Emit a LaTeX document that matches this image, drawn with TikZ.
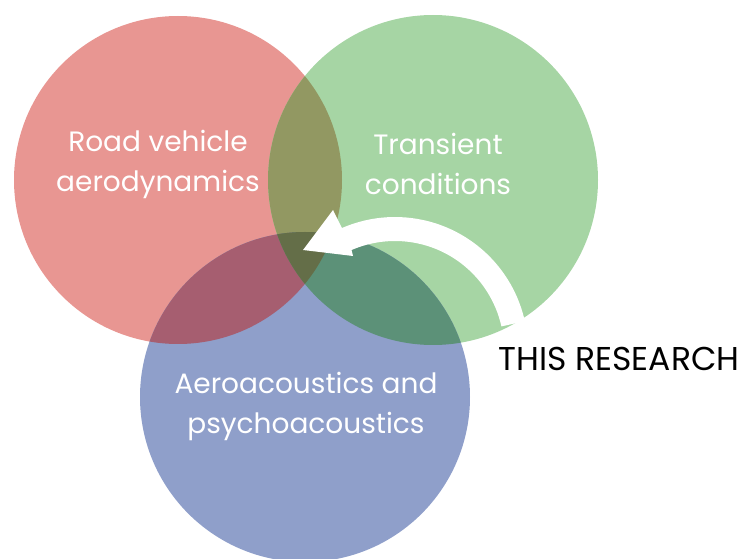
\documentclass[tikz,border=0pt]{standalone}
\usepackage{fontspec}
\setmainfont{Poppins}
\usepackage{tikz}
\usetikzlibrary{arrows.meta}
\usetikzlibrary{calc}
\definecolor{roadred}{RGB}{232,150,146}
\definecolor{transgreen}{RGB}{166,213,164}
\definecolor{acoublue}{RGB}{143,159,202}
\definecolor{redgreen}{RGB}{146,152,98}
\definecolor{redblue}{RGB}{166,94,112}
\definecolor{greenblue}{RGB}{92,145,120}
\definecolor{allthree}{RGB}{100,110,72}
\tikzset{
  setlabel/.style={text=white, align=center, font=\fontsize{14}{20}\selectfont}
}

\begin{document}
\begin{tikzpicture}[x=0.5pt, y=0.5pt]
\useasboundingbox (0,0) rectangle (740,558);

\path [fill=roadred] (178,378) circle [radius=164];
\path [fill=transgreen] (433,378) circle [radius=165];
\path [fill=acoublue] (305,161) circle [radius=165];

\begin{scope}
\clip (178,378) circle [radius=164];
\path [fill=redgreen] (433,378) circle [radius=165];
\path [fill=redblue] (305,161) circle [radius=165];
\end{scope}
\begin{scope}
\clip (433,378) circle [radius=165];
\path [fill=greenblue] (305,161) circle [radius=165];
\clip (305,161) circle [radius=165];
\path [fill=allthree] (178,378) circle [radius=164];
\end{scope}

\path [fill=white] (395,208) ++(12.5:133) arc (12.5:113.5:133)
  -- (333,348) -- (303,308) -- (353,302)
  -- ($(395,208)+(113.5:109)$) arc (113.5:12.5:109) -- cycle;

\node [setlabel] (road) at (158,394) {Road vehicle\\aerodynamics};
\node [setlabel] (trans) at (438,394) {Transient\\conditions};
\node [setlabel] (acou) at (306,152) {Aeroacoustics and\\psychoacoustics};

\node [anchor=base, font=\fontsize{16.5}{20}\selectfont] (research) at (619,188) {THIS RESEARCH};
\end{tikzpicture}
\end{document}
